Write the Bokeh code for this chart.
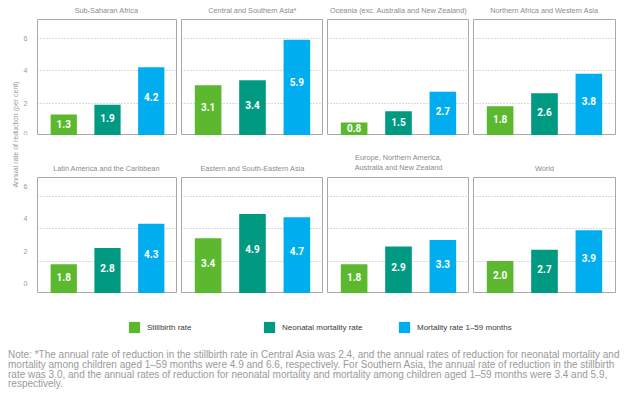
from bokeh.plotting import figure
from bokeh.models import Range1d, FixedTicker, ColumnDataSource, Label, Legend, LegendItem, Div
from bokeh.layouts import row, column
from bokeh.embed import file_html
from bokeh.resources import INLINE
from bokeh.core.properties import value
import math

# ---------------- data ----------------
regions = [
    "Sub-Saharan Africa",
    "Central and Southern Asia*",
    "Oceania (exc. Australia and New Zealand)",
    "Northern Africa and Western Asia",
    "Latin America and the Caribbean",
    "Eastern and South-Eastern Asia",
    "Europe, Northern America,\nAustralia and New Zealand",
    "World",
]
series = ["Stillbirth rate", "Neonatal mortality rate", "Mortality rate 1\u201359 months"]
stillbirth = [1.3, 3.1, 0.8, 1.8, 1.8, 3.4, 1.8, 2.0]
neonatal = [1.9, 3.4, 1.5, 2.6, 2.8, 4.9, 2.9, 2.7]
postneonatal = [4.2, 5.9, 2.7, 3.8, 4.3, 4.7, 3.3, 3.9]
y_ticks = [0, 2, 4, 6]
y_label = "Annual rate of reduction (per cent)"
note_lines = [
    "Note: *The annual rate of reduction in the stillbirth rate in Central Asia was 2.4, and the annual rates of reduction for neonatal mortality and",
    "mortality among children aged 1\u201359 months were 4.9 and 6.6, respectively. For Southern Asia, the annual rate of reduction in the stillbirth",
    "rate was 3.0, and the annual rates of reduction for neonatal mortality and mortality among children aged 1\u201359 months were 3.4 and 5.9,",
    "respectively.",
]

# ---------------- style ----------------
colors = ["#5cb82e", "#009a82", "#00aeef"]
FRAME_W = 142
FRAME_H = 116
LEFT_B = 15
TOP1 = 17
TOP2 = 42
GAP = 4
YMAX = 7.15
TITLE_GAP = 5
BOTTOM_LABEL_SHIFT = 0.6  # bottom-row tick labels sit above their grid lines in the reference
BAR_FONT = value("Roboto")
GRAY = "#8c8c8c"
ROW_W = LEFT_B + 4 * FRAME_W + 3 * GAP + 2


def make_panel(i, label_shift):
    left_axis = (i % 4 == 0)
    last = (i % 4 == 3)
    lb = LEFT_B if left_axis else 0
    rb = 2 if last else 0
    p = figure(
        width=FRAME_W + lb + rb,
        height=FRAME_H + 1,
        x_range=Range1d(-0.6, 2.6),
        y_range=Range1d(0, YMAX),
        output_backend="svg",
        toolbar_location=None,
        min_border_left=lb,
        min_border_right=rb,
        min_border_top=1,
        min_border_bottom=0,
    )
    vals = [stillbirth[i], neonatal[i], postneonatal[i]]
    src = ColumnDataSource(dict(
        x=[0, 1, 2],
        top=vals,
        color=colors,
        label=[f"{v:.1f}" for v in vals],
        ly=[v * 0.56 for v in vals],
    ))
    p.vbar(x="x", top="top", bottom=0, width=0.6, fill_color="color", line_color=None, source=src)
    p.text(x="x", y="ly", text="label", text_color="white", text_font=BAR_FONT,
           text_font_size="10px", text_font_style="bold", text_align="center",
           text_baseline="middle", source=src)

    p.xaxis.visible = False
    p.xgrid.visible = False
    p.ygrid.ticker = FixedTicker(ticks=y_ticks)
    p.ygrid.grid_line_color = "#b5b5b5"
    p.ygrid.grid_line_dash = "1 2"
    p.ygrid.grid_line_width = 1
    if left_axis:
        ax = p.yaxis[0]
        pos = [t + label_shift for t in y_ticks]
        ax.ticker = FixedTicker(ticks=pos)
        ax.major_label_overrides = {ps: str(t) for ps, t in zip(pos, y_ticks)}
        ax.axis_line_color = None
        ax.major_tick_line_color = None
        ax.minor_tick_line_color = None
        ax.major_label_text_font_size = "7px"
        ax.major_label_text_color = "#9a9a9a"
        ax.major_label_text_font = "Liberation Sans"
        ax.major_label_standoff = 4
    else:
        p.yaxis.visible = False
    p.outline_line_color = "#a8a8a8"
    p.outline_line_width = 1
    p.background_fill_color = "white"
    p.border_fill_color = "white"
    return p


def title_strip(names, height):
    # strip above a row of panels: x and y in pixels, titles centred over each frame
    s = figure(width=ROW_W, height=height, x_range=Range1d(0, ROW_W), y_range=Range1d(height, 0),
               output_backend="svg", toolbar_location=None, min_border=0)
    s.axis.visible = False
    s.grid.visible = False
    s.outline_line_color = None
    xs = [LEFT_B + k * (FRAME_W + GAP) + FRAME_W / 2 for k in range(len(names))]
    s.text(x=xs, y=[height + 1 - TITLE_GAP] * len(names), text=names, text_align="center",
           text_baseline="bottom", text_font_size="7.3px", text_font=value("Liberation Sans"),
           text_color=GRAY, text_line_height=1.15)
    return s


strip1 = title_strip(regions[:4], TOP1 - 1)
row1 = row([make_panel(i, 0) for i in range(4)], spacing=GAP)
strip2 = title_strip(regions[4:], TOP2 - 1)
row2 = row([make_panel(i, BOTTOM_LABEL_SHIFT) for i in range(4, 8)], spacing=GAP)

total_h = 2 * FRAME_H + TOP1 + TOP2
yl = figure(width=14, height=total_h, x_range=Range1d(0, 14), y_range=Range1d(total_h, 0),
            output_backend="svg", toolbar_location=None, min_border=0)
yl.axis.visible = False
yl.grid.visible = False
yl.outline_line_color = None
yl.add_layout(Label(x=9, y=132, text=y_label, angle=math.pi / 2, text_align="center",
                    text_baseline="middle", text_font_size="7px", text_color="#9a9a9a",
                    text_font="Liberation Sans"))

top_block = row([yl, column([strip1, row1, strip2, row2], spacing=0)], spacing=0)

# legend (swatches come from off-screen dummy quads; only their legend entries show)
lg = figure(width=609, height=50, x_range=Range1d(0, 1), y_range=Range1d(0, 1),
            output_backend="svg", toolbar_location=None, min_border=0)
lg.axis.visible = False
lg.grid.visible = False
lg.outline_line_color = None
items = []
for s, c in zip(series, colors):
    r = lg.quad(left=[5], right=[6], top=[6], bottom=[5], fill_color=c, line_color=None)
    items.append(LegendItem(label=s, renderers=[r]))
legend = Legend(items=items, orientation="horizontal", location=(121, 9),
                glyph_width=14, glyph_height=14, label_standoff=6, spacing=10,
                label_width=105, padding=0, margin=0, border_line_color=None,
                background_fill_alpha=0, label_text_font_size="8px",
                label_text_color="#3a3a3a", label_text_font="Liberation Sans")
lg.add_layout(legend, "center")

note = Div(text="<br>".join(note_lines), width=616, margin=(7, 0, 0, 2),
           styles={"font-family": "Liberation Sans", "font-size": "10px", "color": "#9a9a9a",
                   "line-height": "9.8px", "white-space": "nowrap"})

layout = column([top_block, lg, note], spacing=0, margin=(2, 0, 0, 6))

open("out.html", "w").write(file_html(layout, INLINE))
